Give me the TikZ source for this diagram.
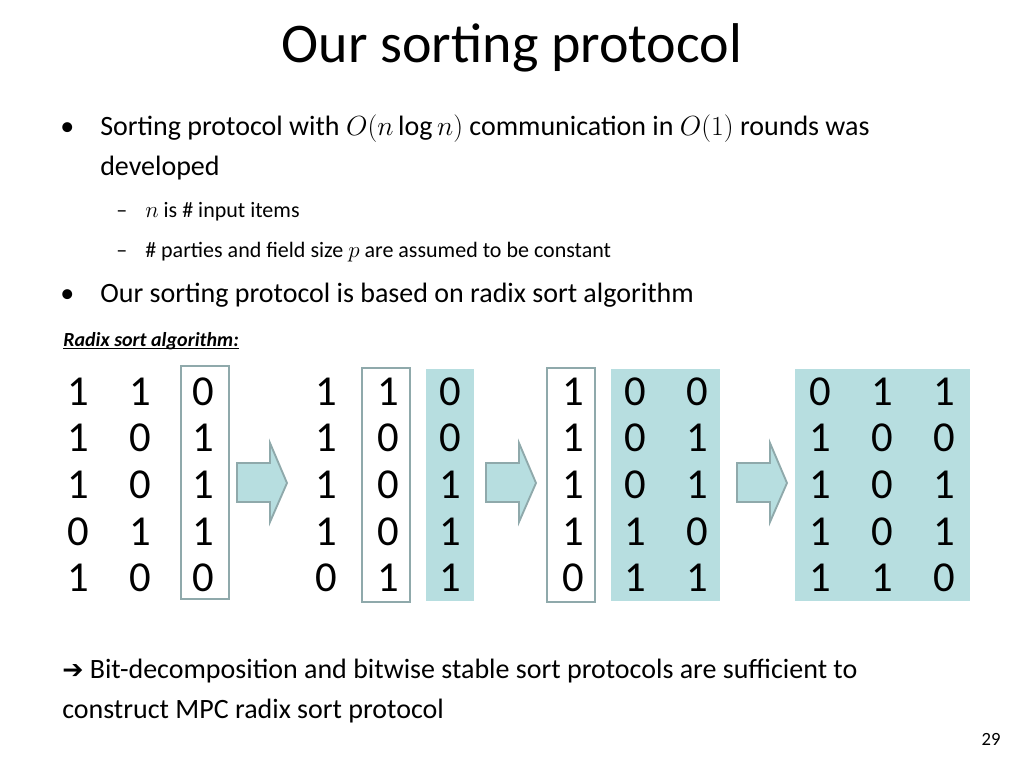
\documentclass[tikz,border=0pt]{standalone}
\usepackage{fontspec}
\setmainfont{Carlito}
\newfontfamily\dejafont{DejaVu Sans}
\begin{document}
\begin{tikzpicture}[x=0.75pt,y=-0.75pt,
  txt/.style={anchor=base west,inner sep=0pt,font=\fontsize{21}{25}\selectfont},
  sub/.style={anchor=base west,inner sep=0pt,font=\fontsize{16.5}{20}\selectfont},
  dig/.style={inner sep=0pt,font=\fontsize{32}{36}\selectfont},
  colbox/.style={draw=boxline,line width=1.6pt},
  colfill/.style={fill=tealfill},
  barrow/.style={fill=tealfill,draw=boxline,line width=1.4pt}]
\definecolor{tealfill}{HTML}{B7DEE0}
\definecolor{boxline}{HTML}{8FA9AB}
\useasboundingbox (0,0) rectangle (1024,768);
\node[inner sep=0pt,font=\fontsize{42}{48}\selectfont] (title) at (512,48) {Our sorting protocol};
\node[txt] (b1) at (60,135) {•};
\node[txt] (l1) at (100,135) {Sorting protocol with $O(n\log n)$ communication in $O(1)$ rounds was};
\node[txt] (l2) at (100,175) {developed};
\node[sub] (d1) at (116,217) {–};
\node[sub] (s1) at (145,217) {$n$ is \# input items};
\node[sub] (d2) at (116,257) {–};
\node[sub] (s2) at (145,257) {\# parties and field size $p$ are assumed to be constant};
\node[txt] (b2) at (60,302) {•};
\node[txt] (l3) at (100,302) {Our sorting protocol is based on radix sort algorithm};
\node[anchor=base west,inner sep=0pt,font=\fontsize{15}{18}\selectfont\bfseries\itshape] (rad) at (63,346) {Radix sort algorithm:};
\draw[line width=0.8pt] ([yshift=-2.2pt]rad.base west) -- ([yshift=-2.2pt]rad.base east);
% boxes and fills
\fill[colfill] (426,369) rectangle (474,601);
\fill[colfill] (611,369) rectangle (720,601);
\fill[colfill] (795,369) rectangle (970,601);
\draw[colbox] (181,366) rectangle (229,599);
\draw[colbox] (362,368) rectangle (410,602);
\draw[colbox] (547,368) rectangle (595,602);
% arrows
\foreach \ax [count=\i] in {237,486,737}{
  \draw[barrow] (\ax,463) -- (\ax+33,463) -- (\ax+33,443) -- (\ax+50,483) -- (\ax+33,522) -- (\ax+33,502) -- (\ax,502) -- cycle;
}
% digits
\foreach \x/\col in {78/{1,1,1,0,1},140/{1,0,0,1,0},203/{0,1,1,1,0},
  326/{1,1,1,1,0},388/{1,0,0,0,1},450/{0,0,1,1,1},
  573/{1,1,1,1,0},635/{0,0,0,1,1},697/{0,1,1,0,1},
  820/{0,1,1,1,1},882/{1,0,0,0,1},944/{1,0,1,1,0}}{
  \foreach \v [count=\r] in \col {
    \pgfmathsetmacro{\yy}{{392,438,485,532,578}[\r-1]}
    \node[dig] (d\x-\r) at (\x,\yy) {\v};
  }
}
\node[txt] (c1) at (62,678) {{\dejafont\fontsize{19}{22}\selectfont ➔} Bit-decomposition and bitwise stable sort protocols are sufficient to};
\node[txt] (c2) at (62,718) {construct MPC radix sort protocol};
\node[anchor=base,inner sep=0pt,font=\fontsize{14}{16}\selectfont] (pg) at (991,745) {29};
\end{tikzpicture}
\end{document}
